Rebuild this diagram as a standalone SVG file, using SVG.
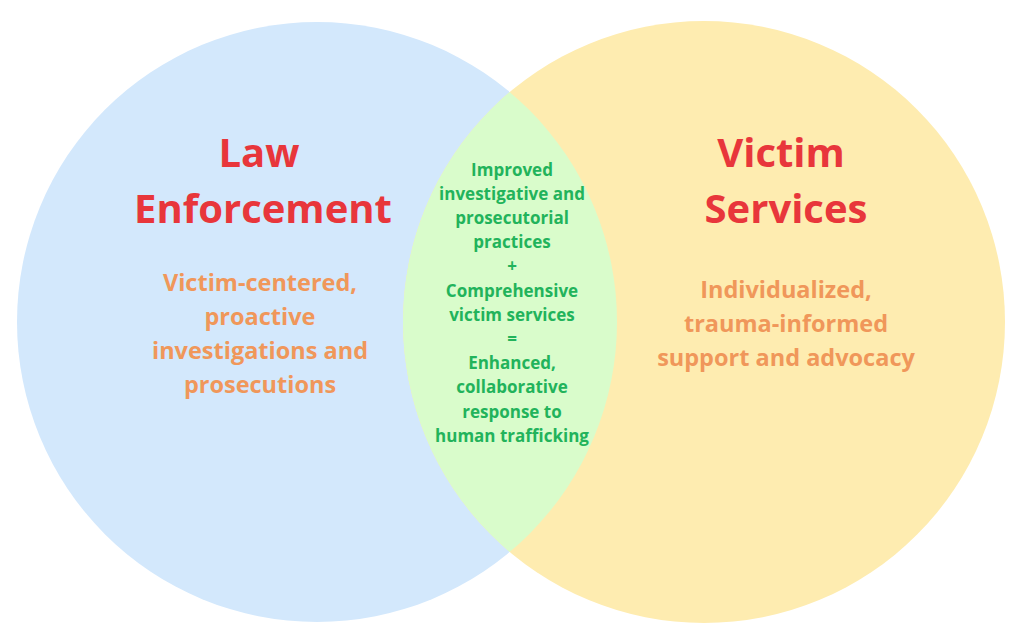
<svg xmlns="http://www.w3.org/2000/svg" width="1024" height="630" viewBox="0 0 1024 630">
  <defs>
    <style>
      .title { font-family: "Open Sans", "Liberation Sans", sans-serif; font-weight: 700; font-size: 40px; fill: #e8363b; text-anchor: middle; }
      .sub { font-family: "Open Sans", "Liberation Sans", sans-serif; font-weight: 700; font-size: 23.5px; fill: #f0975a; text-anchor: middle; }
      .mid { font-family: "Open Sans", "Liberation Sans", sans-serif; font-weight: 700; font-size: 17px; fill: #22b35b; text-anchor: middle; }
    </style>
    <clipPath id="clipLeft">
      <circle cx="317" cy="322" r="300"/>
    </clipPath>
  </defs>
  <rect width="1024" height="630" fill="#ffffff"/>
  <g id="law-enforcement">
    <circle cx="317" cy="322" r="300" fill="#d3e8fc"/>
  </g>
  <g id="victim-services">
    <circle cx="704" cy="322" r="301" fill="#feecb0"/>
  </g>
  <g id="overlap">
    <circle cx="704" cy="322" r="301" fill="#d9fccb" clip-path="url(#clipLeft)"/>
  </g>
  <g id="law-enforcement-text">
    <text class="title" x="259" y="167">Law</text>
    <text class="title" x="263" y="223">Enforcement</text>
    <text class="sub" x="260" y="291">Victim-centered,</text>
    <text class="sub" x="260" y="325">proactive</text>
    <text class="sub" x="260" y="359">investigations and</text>
    <text class="sub" x="260" y="393">prosecutions</text>
  </g>
  <g id="victim-services-text">
    <text class="title" x="781" y="167">Victim</text>
    <text class="title" x="786" y="223">Services</text>
    <text class="sub" x="786" y="298">Individualized,</text>
    <text class="sub" x="786" y="332">trauma-informed</text>
    <text class="sub" x="786" y="366">support and advocacy</text>
  </g>
  <g id="overlap-text">
    <text class="mid" x="512" y="176">Improved</text>
    <text class="mid" x="512" y="200">investigative and</text>
    <text class="mid" x="512" y="224">prosecutorial</text>
    <text class="mid" x="512" y="248">practices</text>
    <text class="mid" x="512" y="272">+</text>
    <text class="mid" x="512" y="297">Comprehensive</text>
    <text class="mid" x="512" y="321">victim services</text>
    <text class="mid" x="512" y="345">=</text>
    <text class="mid" x="512" y="369">Enhanced,</text>
    <text class="mid" x="512" y="393">collaborative</text>
    <text class="mid" x="512" y="418">response to</text>
    <text class="mid" x="512" y="442">human trafficking</text>
  </g>
</svg>
